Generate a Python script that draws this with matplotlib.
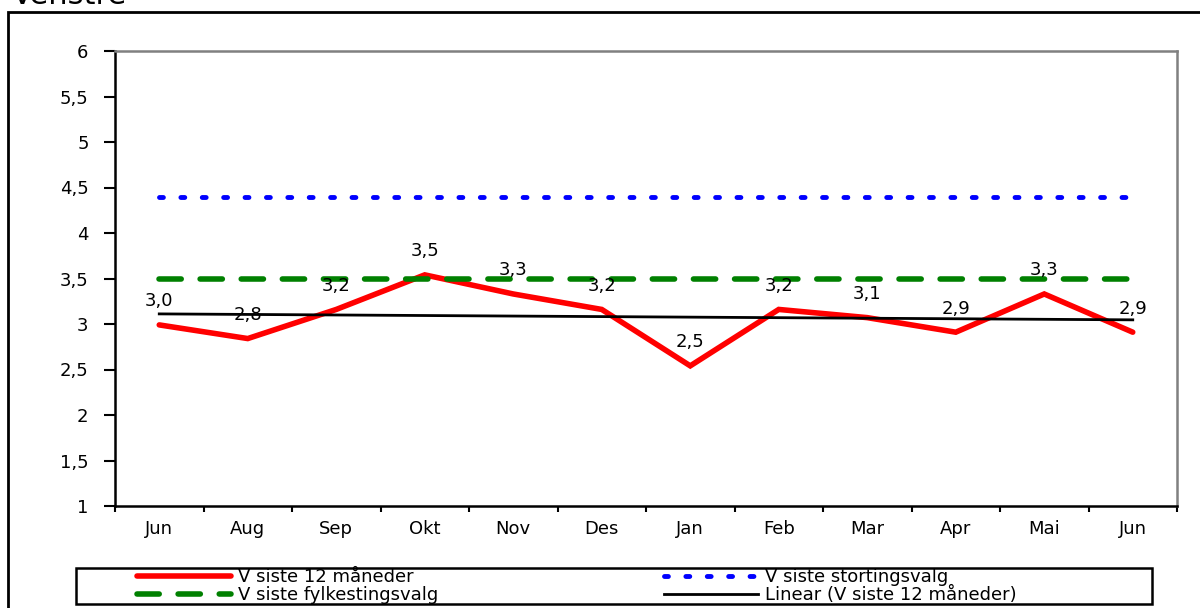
import numpy as np
import matplotlib
matplotlib.use("Agg")
import matplotlib.pyplot as plt
from matplotlib.patches import Rectangle

plt.rcParams['font.family'] = ['DejaVu Sans']

# data
months = ["Jun", "Aug", "Sep", "Okt", "Nov", "Des", "Jan", "Feb", "Mar", "Apr", "Mai", "Jun"]
siste12 = [2.99, 2.84, 3.16, 3.54, 3.33, 3.16, 2.54, 3.16, 3.07, 2.91, 3.33, 2.91]
stortingsvalg = 4.4
fylkestingsvalg = 3.5
yticks = [1, 1.5, 2, 2.5, 3, 3.5, 4, 4.5, 5, 5.5, 6]

x = np.arange(len(months))
y = np.array(siste12)
# Excel style linear trend
k, m = np.polyfit(x, y, 1)
trend = k * x + m

fig = plt.figure(figsize=(12, 6.08), dpi=100)
ax = fig.add_axes([115/1200, 1 - 506/608, 1062/1200, 455/608])

# outer chart frame (cut off at right/bottom)
fig.patches.append(Rectangle((8/1200, -0.05), 1.2, 1 - 12/608 + 0.05,
                             transform=fig.transFigure, fill=False,
                             edgecolor='black', lw=2))
fig.text(12/1200, 1 - 4/608, "Venstre", fontsize=22, ha='left', va='baseline')

red, = ax.plot(x, y, color='#ff0000', lw=4, solid_capstyle='round',
               solid_joinstyle='miter', zorder=3, label="V siste 12 måneder")
blue, = ax.plot(x, [stortingsvalg] * len(x), color='#0000ff', lw=3.5,
                dash_capstyle='round', linestyle=(0, (0.8, 3.6)),
                zorder=4, label="V siste stortingsvalg")
green, = ax.plot(x, [fylkestingsvalg] * len(x), color='#008000', lw=4,
                 dash_capstyle='round', linestyle=(0, (4, 3.4)),
                 zorder=4, label="V siste fylkestingsvalg")
black, = ax.plot(x, trend, color='black', lw=2, zorder=5,
                 label="Linear (V siste 12 måneder)")

for xi, yi in zip(x, y):
    ax.annotate(f"{yi:.1f}".replace(".", ","), (xi, yi), xytext=(0, 17),
                textcoords='offset points', ha='center', va='center',
                fontsize=13, zorder=6)

ax.set_xlim(-0.5, len(x) - 0.5)
ax.set_ylim(1, 6)
ax.set_yticks(yticks)
ax.set_yticklabels([f"{t:g}".replace(".", ",") for t in yticks])
ax.set_xticks(x)
ax.set_xticklabels(months)
ax.set_xticks(np.arange(-0.5, len(x)), minor=True)
ax.tick_params(axis='x', which='major', length=0, pad=10, labelsize=13)
ax.tick_params(axis='x', which='minor', length=4, width=1.5, direction='out')
ax.tick_params(axis='y', length=8, width=1.5, pad=11, labelsize=13)

for s in ['left', 'bottom']:
    ax.spines[s].set_color('black')
    ax.spines[s].set_linewidth(1.8)
for s in ['top', 'right']:
    ax.spines[s].set_color('#808080')
    ax.spines[s].set_linewidth(1.8)

# legend frame drawn separately, entries placed inside
fig.patches.append(Rectangle((76/1200, 1 - 604/608), 1076/1200, 36/608,
                             transform=fig.transFigure, fill=False,
                             edgecolor='black', lw=1.8))
leg = fig.legend(handles=[red, green, blue, black], ncol=2,
                 loc='center left', bbox_to_anchor=(137/1200, 1 - 586/608),
                 fontsize=13, handlelength=5.2, handletextpad=0.4,
                 columnspacing=12.5, borderaxespad=0, borderpad=0,
                 labelspacing=0.0, frameon=False)

fig.savefig("out.png", dpi=100)
